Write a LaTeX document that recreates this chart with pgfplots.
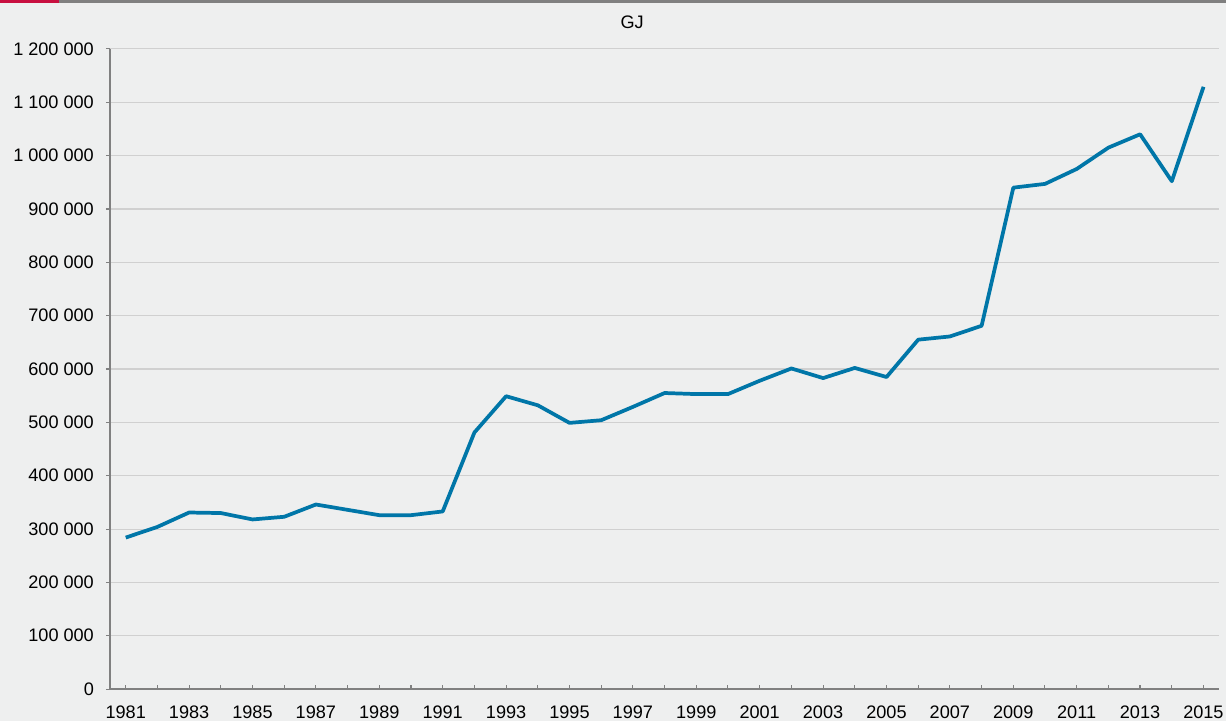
\documentclass[border=0pt]{standalone}
\usepackage{fontspec}
\setmainfont{Liberation Sans}
\usepackage{pgfplots}
\pgfplotsset{compat=1.18}
\definecolor{bg}{RGB}{238,239,239}
\definecolor{topgray}{RGB}{128,128,128}
\definecolor{topred}{RGB}{200,16,64}
\definecolor{axisgray}{RGB}{128,128,128}
\definecolor{gridgray}{RGB}{208,208,208}
\definecolor{lineblue}{RGB}{0,118,168}
\begin{document}
\begin{tikzpicture}
\fill[bg] (0,0) rectangle (921pt,541.5pt);
\fill[topgray] (0,539.25pt) rectangle (921pt,541.5pt);
\fill[topred] (0,539.25pt) rectangle (44.25pt,541.5pt);
\node[font=\fontsize{13.6}{16}\selectfont] at (474.75pt,525pt) {GJ};
\begin{axis}[
  at={(82.5pt,24pt)}, anchor=south west,
  scale only axis, width=833.25pt, height=480.75pt,
  xmin=1980.5, xmax=2015.5, ymin=0, ymax=1200000,
  axis x line*=bottom, axis y line*=left,
  axis line style={draw=axisgray, line width=1.4pt},
  xtick={1981,...,2015},
  xticklabels={1981,,1983,,1985,,1987,,1989,,1991,,1993,,1995,,1997,,1999,,2001,,2003,,2005,,2007,,2009,,2011,,2013,,2015},
  ytick={0,100000,...,1200000},
  yticklabels={0,100 000,200 000,300 000,400 000,500 000,600 000,700 000,800 000,900 000,1 000 000,1 100 000,1 200 000},
  ymajorgrids, grid style={draw=gridgray, line width=0.8pt},
  xtick align=inside, ytick align=outside,
  major tick length=3pt,
  tick style={draw=axisgray, line width=0.8pt},
  tick label style={font=\fontsize{13.6}{16}\selectfont, text=black},
  yticklabel style={xshift=-5.5pt},
  xticklabel style={yshift=-9pt},
  scaled y ticks=false,
]
\addplot[lineblue, line width=2.8pt, line join=round, mark=none] coordinates {
(1981,284000) (1982,304000) (1983,331000) (1984,330000) (1985,318000)
(1986,323000) (1987,346000) (1988,336000) (1989,326000) (1990,326000)
(1991,333000) (1992,481000) (1993,549000) (1994,532000) (1995,499000)
(1996,504000) (1997,529000) (1998,555000) (1999,553000) (2000,553000)
(2001,578000) (2002,601000) (2003,583000) (2004,602000) (2005,585000)
(2006,655000) (2007,661000) (2008,681000) (2009,940000) (2010,947000)
(2011,975000) (2012,1015000) (2013,1040000) (2014,952000) (2015,1129000)
};
\end{axis}
\end{tikzpicture}
\end{document}
